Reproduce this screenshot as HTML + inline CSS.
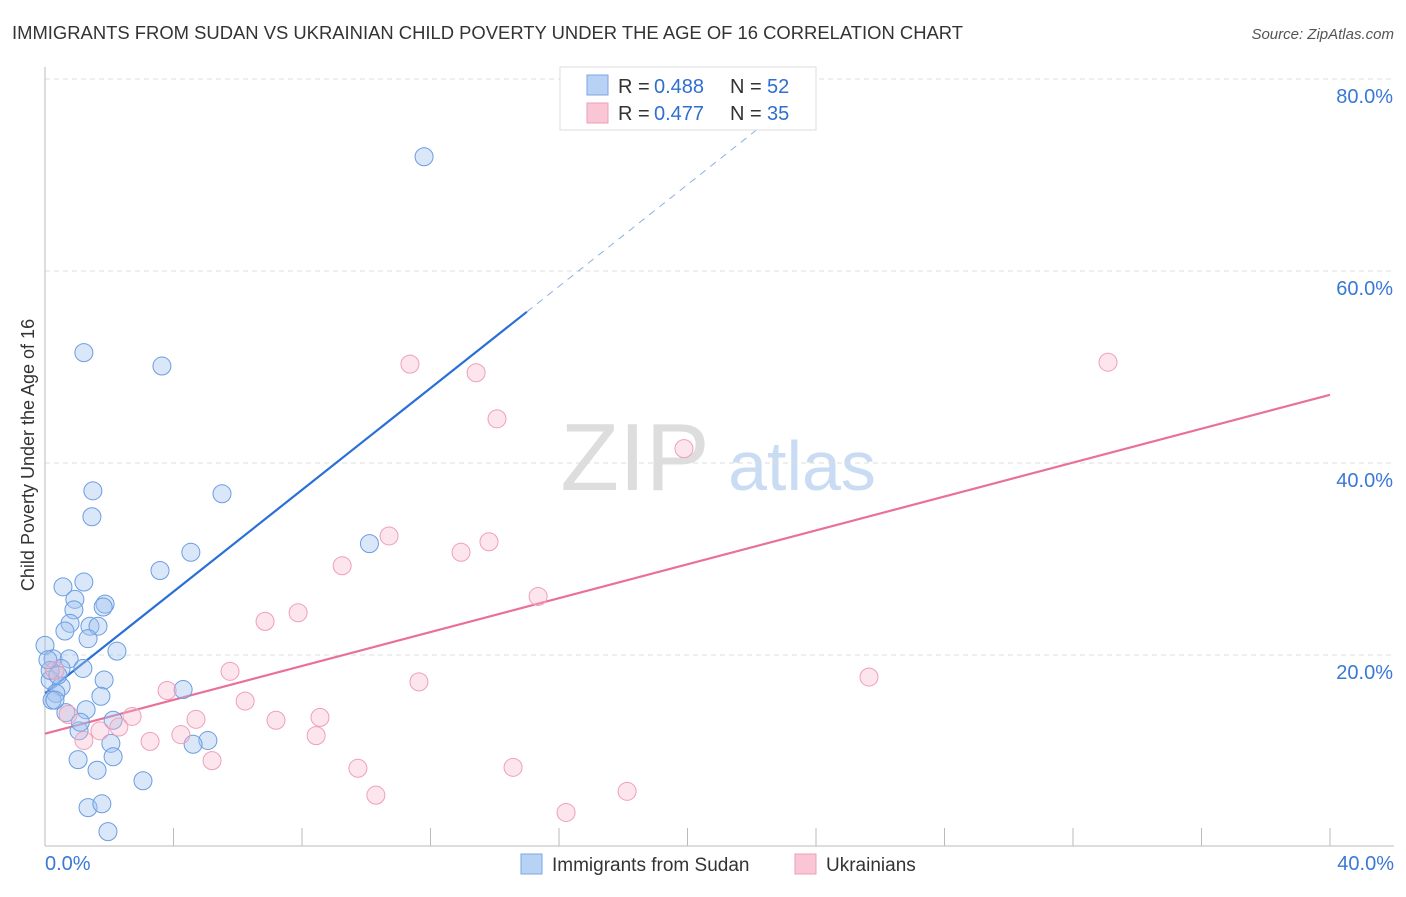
<!DOCTYPE html>
<html><head><meta charset="utf-8"><style>
body{margin:0;background:#fff;font-family:"Liberation Sans",sans-serif;}
svg text{font-family:"Liberation Sans",sans-serif;}
</style></head><body>
<svg id="chart" width="1406" height="892" xmlns="http://www.w3.org/2000/svg">
<text x="12" y="39" font-size="18" fill="#333" textLength="951" lengthAdjust="spacingAndGlyphs">IMMIGRANTS FROM SUDAN VS UKRAINIAN CHILD POVERTY UNDER THE AGE OF 16 CORRELATION CHART</text>
<text x="1394" y="39" font-size="15" fill="#555" text-anchor="end" font-style="italic">Source: ZipAtlas.com</text>
<text transform="translate(34,455) rotate(-90)" font-size="18" fill="#333" text-anchor="middle">Child Poverty Under the Age of 16</text>
<g>
<text x="635" y="490" font-size="96" fill="#ddd" text-anchor="middle" font-family="Liberation Serif, serif">ZIP</text>
<text x="802" y="490" font-size="70" fill="#c9dcf3" text-anchor="middle">atlas</text>
</g>
<g id="grid"></g><g id="axes"></g><g id="lines"></g><g id="points"></g>
<g>
<rect x="560" y="67" width="256" height="63" fill="#fff" stroke="#ddd"/>
<rect x="587" y="75" width="21" height="20" fill="#b8d2f5" stroke="#7aa6e3"/>
<text x="618" y="93" font-size="20" fill="#333">R = </text><text x="654" y="93" font-size="20" fill="#2f6fd0">0.488</text>
<text x="730" y="93" font-size="20" fill="#333">N = </text><text x="767" y="93" font-size="20" fill="#2f6fd0">52</text>
<rect x="587" y="103" width="21" height="20" fill="#f8c6d5" stroke="#ee9db8"/>
<text x="618" y="120" font-size="20" fill="#333">R = </text><text x="654" y="120" font-size="20" fill="#2f6fd0">0.477</text>
<text x="730" y="120" font-size="20" fill="#333">N = </text><text x="767" y="120" font-size="20" fill="#2f6fd0">35</text>
</g>
<g>
<rect x="521" y="854" width="21" height="20" fill="#b8d2f5" stroke="#7aa6e3"/>
<text x="552" y="871" font-size="19" fill="#333">Immigrants from Sudan</text>
<rect x="795" y="854" width="21" height="20" fill="#f8c6d5" stroke="#ee9db8"/>
<text x="826" y="871" font-size="19" fill="#333">Ukrainians</text>
</g>
</svg>
<script>
const blueX=[11.8,1.21,3.64,1.49,5.51,1.46,4.54,3.58,10.1,1.21,0.56,0.93,1.87,1.81,0.90,0.78,0.62,1.40,1.65,1.34,0,2.24,0.25,0.75,1.18,0.50,0.16,1.84,0.50,0.34,4.30,1.74,0.22,1.28,0.65,2.12,1.06,5.07,4.61,2.05,2.12,1.03,1.62,3.05,1.34,1.77,1.96,0.16,0.40,0.31,0.09,1.1];
const blueY=[71.9,51.5,50.1,37.1,36.8,34.4,30.7,28.8,31.6,27.6,27.1,25.8,25.3,25.0,24.7,23.3,22.5,23.0,23.0,21.7,21.0,20.4,19.6,19.6,18.6,18.6,17.4,17.4,16.7,16.0,16.4,15.7,15.3,14.3,14.0,13.2,12.1,11.1,10.7,10.8,9.4,9.1,8.0,6.9,4.1,4.5,1.6,18.4,17.9,15.3,19.5,13.0];
const pinkX=[11.36,13.42,14.07,19.89,33.09,10.71,12.95,13.82,9.25,15.35,6.85,7.88,5.76,11.64,25.65,3.80,6.23,4.70,7.19,2.71,8.56,2.30,4.23,8.44,3.27,1.21,1.71,5.20,9.74,14.57,10.30,18.12,16.22,0.72,0.31];
const pinkY=[50.3,49.4,44.6,41.5,50.5,32.4,30.7,31.8,29.3,26.1,23.5,24.4,18.3,17.2,17.7,16.3,15.2,13.3,13.2,13.6,13.5,12.5,11.7,11.6,11.0,11.1,12.1,9.0,8.2,8.3,5.4,5.8,3.6,13.8,18.4];
const blueTrend=[16.0,2.65];
const pinkTrend=[11.8,0.8825];
const yTicks=[20,40,60,80];
const xTickVals=[0,4,8,12,16,20,24,28,32,36,40];
const NS="http://www.w3.org/2000/svg";
const sx=v=>45+v*32.125, sy=v=>847-v*9.6;
function mk(t,a,p){const e=document.createElementNS(NS,t);for(const k in a)e.setAttribute(k,a[k]);p.appendChild(e);return e;}
const grid=document.getElementById('grid'),axes=document.getElementById('axes'),lines=document.getElementById('lines'),pts=document.getElementById('points');
yTicks.forEach(v=>{
 const l=mk('line',{x1:45,x2:1394,y1:sy(v),y2:sy(v),stroke:'#ddd','stroke-dasharray':'5,4'},grid);
 
 
 const t=mk('text',{x:1393,y:sy(v)+24,'font-size':20,fill:'#3a78d6','text-anchor':'end'},axes);
 t.textContent=v.toFixed(1)+'%';
 
 
});
mk('line',{x1:45,x2:45,y1:67,y2:846,stroke:'#bbb'},axes);
mk('line',{x1:45,x2:1394,y1:846,y2:846,stroke:'#bbb'},axes);
xTickVals.forEach(v=>{
 const l=mk('line',{x1:sx(v),x2:sx(v),y1:828,y2:846,stroke:'#bbb'},axes);
 
 
});
[[0,'start',45],[40,'end',1394]].forEach(([v,a,x])=>{
 const t=mk('text',{x:x,y:870,'font-size':20,fill:'#3a78d6','text-anchor':a},axes);
 t.textContent=v.toFixed(1)+'%';
 
 
});
const bl=mk('line',{x1:sx(0),y1:sy(blueTrend[0]),x2:sx(15),y2:sy(blueTrend[0]+15*blueTrend[1]),stroke:'#2a6fd6','stroke-width':2.2},lines);


const bd=mk('line',{x1:sx(15),y1:sy(blueTrend[0]+15*blueTrend[1]),x2:sx(23.5),y2:sy(blueTrend[0]+23.5*blueTrend[1]),stroke:'#8ab0e6','stroke-width':1,'stroke-dasharray':'7,6'},lines);


const pl=mk('line',{x1:sx(0),y1:sy(pinkTrend[0]),x2:sx(40),y2:sy(pinkTrend[0]+40*pinkTrend[1]),stroke:'#e8709a','stroke-width':2.2},lines);


blueX.forEach((x,i)=>{
 const c=mk('circle',{cx:sx(x),cy:sy(blueY[i]),r:9,fill:'rgba(160,195,240,0.4)',stroke:'#6b9de2','stroke-width':1},pts);
 
 
});
pinkX.forEach((x,i)=>{
 const c=mk('circle',{cx:sx(x),cy:sy(pinkY[i]),r:9,fill:'rgba(246,180,200,0.35)',stroke:'#ef9fbb','stroke-width':1},pts);
 
 
});
</script>
</body></html>
